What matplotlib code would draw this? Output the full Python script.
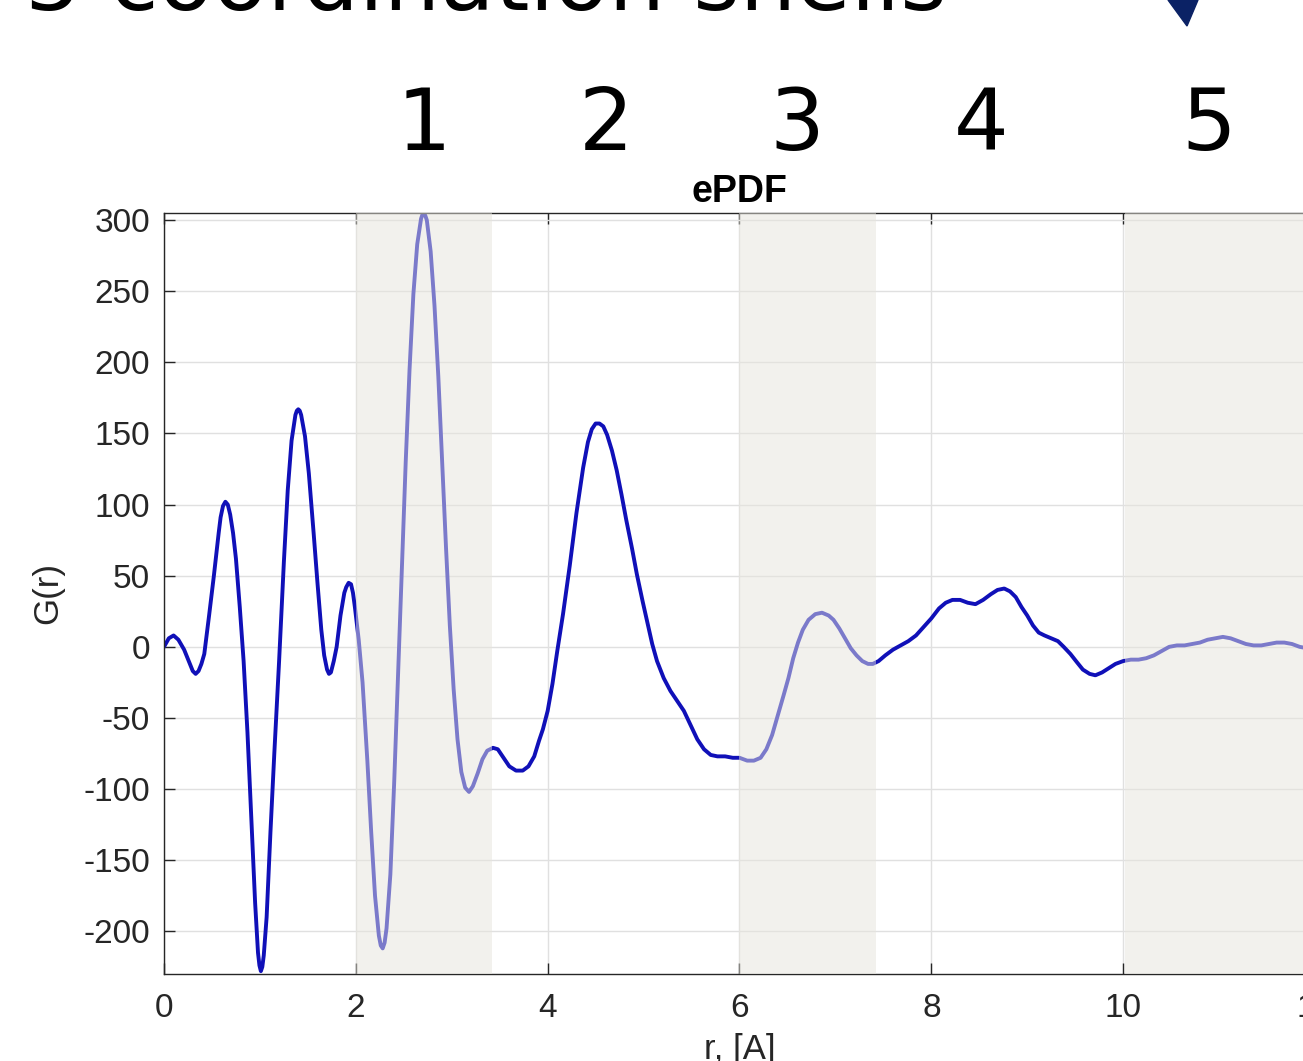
import matplotlib.pyplot as plt
import matplotlib.transforms as mtransforms
from matplotlib.patches import Polygon
import numpy as np

plt.rcParams.update({"font.family": "Liberation Sans", "font.size": 24,
                     "axes.unicode_minus": False})

# G(r) curve
r = [0.00, 0.05, 0.10, 0.15, 0.21, 0.27, 0.30, 0.33, 0.36, 0.39, 0.42, 0.47, 0.52, 0.57, 0.59,
     0.615, 0.64, 0.665, 0.69, 0.72, 0.75, 0.79, 0.83, 0.87, 0.91, 0.95, 0.98, 0.995, 1.01,
     1.025, 1.04, 1.07, 1.11, 1.15, 1.20, 1.25, 1.29, 1.33, 1.37, 1.385, 1.40, 1.415, 1.43,
     1.47, 1.51, 1.56, 1.60, 1.64, 1.67, 1.70, 1.72, 1.74, 1.77, 1.80, 1.84, 1.88, 1.90, 1.925,
     1.95, 1.97, 1.99, 2.03, 2.07, 2.12, 2.16, 2.20, 2.24, 2.26, 2.28, 2.30, 2.32, 2.36, 2.40,
     2.44, 2.48, 2.52, 2.56, 2.60, 2.64, 2.68, 2.695, 2.71, 2.725, 2.74, 2.78, 2.82, 2.86, 2.90,
     2.94, 2.98, 3.02, 3.06, 3.10, 3.14, 3.18, 3.22, 3.27, 3.32, 3.37, 3.43, 3.48, 3.54, 3.60,
     3.67, 3.74, 3.80, 3.86, 3.91, 3.95, 4.00, 4.05, 4.10, 4.16, 4.23, 4.30, 4.37, 4.42, 4.46,
     4.50, 4.54, 4.58, 4.62, 4.67, 4.72, 4.77, 4.82, 4.88, 4.93, 4.99, 5.04, 5.09, 5.14, 5.21,
     5.28, 5.35, 5.42, 5.49, 5.56, 5.63, 5.70, 5.77, 5.85, 5.93, 6.00, 6.08, 6.15, 6.22, 6.28,
     6.34, 6.40, 6.46, 6.51, 6.56, 6.61, 6.66, 6.72, 6.79, 6.86, 6.93, 6.98, 7.04, 7.10, 7.16,
     7.22, 7.28, 7.34, 7.39, 7.45, 7.52, 7.60, 7.68, 7.76, 7.84, 7.92, 8.00, 8.08, 8.15, 8.22,
     8.30, 8.38, 8.46, 8.54, 8.62, 8.69, 8.76, 8.82, 8.88, 8.94, 9.00, 9.06, 9.12, 9.18, 9.25,
     9.32, 9.38, 9.45, 9.52, 9.58, 9.65, 9.71, 9.78, 9.85, 9.92, 10.00, 10.08, 10.16, 10.24,
     10.32, 10.40, 10.48, 10.56, 10.64, 10.72, 10.80, 10.88, 10.96, 11.04, 11.12, 11.20, 11.28,
     11.36, 11.44, 11.52, 11.60, 11.68, 11.76, 11.84, 11.92, 12.00]
G = [0, 6, 8, 5, -2, -12, -17, -19, -17, -12, -5, 22, 50, 80, 91,
     99, 102, 100, 93, 80, 62, 28, -10, -60, -120, -180, -215, -224, -228,
     -225, -217, -190, -130, -75, -10, 60, 110, 145, 163, 166, 167, 166, 163,
     148, 122, 80, 45, 12, -6, -16, -19, -18, -10, 0, 22, 38, 42, 45,
     44, 38, 28, 5, -25, -80, -130, -175, -203, -210, -212, -208, -198, -160, -95,
     -20, 55, 130, 195, 248, 283, 301, 304, 305, 303, 300, 278, 240, 190, 130,
     70, 15, -30, -65, -88, -99, -102, -98, -89, -79, -73, -71, -72, -78, -84,
     -87, -87, -84, -77, -66, -58, -45, -26, -3, 23, 57, 94, 126, 144, 153,
     157, 157, 155, 149, 138, 124, 107, 89, 69, 51, 32, 17, 2, -10, -22,
     -31, -38, -45, -55, -65, -72, -76, -77, -77, -78, -78, -80, -80, -78, -72,
     -62, -48, -34, -22, -8, 3, 12, 19, 23, 24, 22, 19, 13, 6, -1,
     -6, -10, -12, -12, -10, -6, -2, 1, 4, 8, 14, 20, 27, 31, 33,
     33, 31, 30, 33, 37, 40, 41, 39, 35, 28, 22, 15, 10, 8, 6,
     4, 0, -5, -11, -16, -19, -20, -18, -15, -12, -10, -9, -9, -8,
     -6, -3, 0, 1, 1, 2, 3, 5, 6, 7, 6, 4, 2,
     1, 1, 2, 3, 3, 2, 0, -1, -2]

# odd shells shaded
shell_bands = [(2.0, 3.42), (6.0, 7.42), (10.02, 12.5)]
shell_labels = ["1", "2", "3", "4", "5"]
shell_pos = [2.71, 4.61, 6.60, 8.52, 10.89]

W, H = 1303, 1061
fig = plt.figure(figsize=(W / 100, H / 100), dpi=100)
ax = fig.add_axes([164 / W, 1 - 974 / H, 1151 / W, (974 - 213) / H])

ax.plot(r, G, color="#1010b8", lw=2.8, zorder=2,
        solid_joinstyle="round", solid_capstyle="round")
for a, b in shell_bands:
    ax.axvspan(a, b, color="#e7e5dd", alpha=0.5, lw=0, zorder=3)

ax.set_xlim(0, 12)
ax.set_ylim(-230, 305)
ax.set_xticks(np.arange(0, 13, 2))
ax.set_yticks(np.arange(-200, 301, 50))
ax.grid(True, color="#e0e0e0", lw=1)
ax.set_axisbelow(True)
ax.tick_params(direction="in", length=8, width=1, colors="#262626", labelsize=24,
               top=True, right=True, pad=14)
ax.tick_params(axis="y", pad=10)
for s in ax.spines.values():
    s.set_color("#262626")
    s.set_linewidth(1)

ax.set_title("ePDF", fontsize=27, fontweight="bold", pad=8)
ax.set_ylabel("G(r)", fontsize=25, labelpad=14, color="#262626")
ax.set_xlabel("r, [A]", fontsize=25, labelpad=6, color="#262626")

# shell numbers above the plot
trans = mtransforms.blended_transform_factory(ax.transData, fig.transFigure)
for lab, x in zip(shell_labels, shell_pos):
    ax.text(x, 1 - 150 / H, lab, transform=trans, ha="center", va="baseline",
            fontsize=62, family="DejaVu Sans", clip_on=False)

# slide heading, cut off at the top
fig.text(25 / W, 1 - 10 / H, "5 coordination shells", fontsize=64, family="DejaVu Sans",
         ha="left", va="baseline")

# arrow head
tri = Polygon([(1168 / W, 1.0), (1198 / W, 1.0), (1187 / W, 1 - 26 / H)], closed=True,
              transform=fig.transFigure, color="#0b2265")
fig.patches.append(tri)

fig.savefig("out.png", dpi=100)
